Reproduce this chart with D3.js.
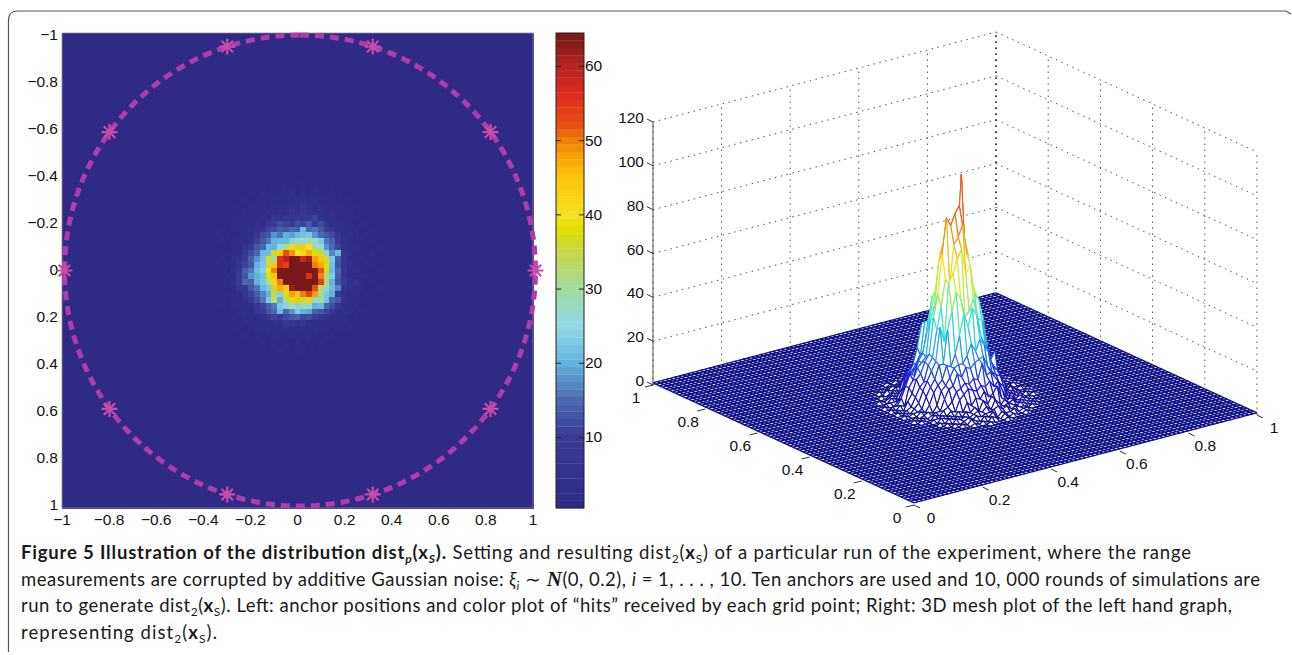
<!DOCTYPE html>
<html>
<head>
<meta charset="utf-8">
<script src="https://cdn.jsdelivr.net/npm/d3@7"></script>
<style>
  html, body { margin: 0; padding: 0; background: #fff; }
  svg { display: block; }
  .tick-label { font-family: "Liberation Sans", sans-serif; font-size: 15.5px; fill: #111; }
  .caption { font-family: "Lato", sans-serif; font-size: 18.5px; fill: #1a1a1a; }
</style>
</head>
<body>
<div id="chart-area"></div>
<script>
// Data

var heatTicks = [-1, -0.8, -0.6, -0.4, -0.2, 0, 0.2, 0.4, 0.6, 0.8, 1];
var barTicks = [10, 20, 30, 40, 50, 60];
var zTicks = [0, 20, 40, 60, 80, 100, 120];
var floorTicks = [0, 0.2, 0.4, 0.6, 0.8, 1];

var anchorX = [1, 0.809, 0.309, -0.309, -0.809, -1, -0.809, -0.309, 0.309, 0.809];
var anchorY = [0, 0.588, 0.951, 0.951, 0.588, 0, -0.588, -0.951, -0.951, -0.588];

// hits of the grid cells around the middle, everything else is backgroundHits
var gridSize = 81;
var backgroundHits = 1;
var coreHits = [
  [1,1,1,1,1,1,1,1,1,1,1,1,2,1,1,1,2,1,1,1,1,1,1,1,1,1,1,1,1,1,1],
  [1,1,1,1,1,1,1,1,1,2,1,2,1,3,2,1,3,1,2,1,1,2,1,1,1,1,1,1,1,1,1],
  [1,1,1,1,1,1,1,2,1,3,2,1,3,2,4,1,3,2,2,3,1,2,2,1,1,1,1,1,1,1,1],
  [1,1,1, 1,1,1,2,1,2,3,2,3,2,3,3,4,5,3,4,2,3,2,2,1,2,1,1,1, 1,1,1],
  [1,1,1, 1,1,2,1,3,2,3,2,3,4,3,5,3,7,5,3,4,3,2,3,2,1,2,1,1, 1,1,1],
  [1,1,1, 1,2,1,3,2,3,2,4,3,5,3,7,5,8,5,3,5,3,4,2,3,2,1,2,1, 1,1,1],
  [1,1,1, 1,1,3,2,3,2,4,3,7,5,8,7,10,7,8,11,5,3,4,3,2,3,2,1,1, 1,1,1],
  [1,1,1, 1,2,2,3,2,4,3,8,10,12,11,10,12,11,13,10,12,7,3,4,2,3,1,2,1, 1,1,1],
  [1,1,2, 1,1,3,2,4,5,7,11,12,14,13,15,14,21,15,16,13,10,8,3,4,2,3,1,1, 2,1,1],
  [1,2,1, 2,1,2,3,3,8,12,13,18,16,20,19,21,22,23,18,15,13,12,8,3,4,2,1,2, 1,1,1],
  [1,1,2, 1,2,3,2,5,11,13,16,20,21,21,24,29,25,30,27,23,16,14,10,5,3,2,2,1, 2,1,1],
  [1,1,1, 1,3,2,5,10,13,15,21,20,25,33,42,36,44,40,30,26,18,15,11,5,3,4,2,1, 1,2,1],
  [1,2,1, 2,2,3,8,12,15,21,21,36,44,52,49,40,42,47,38,36,24,17,21,7,4,3,2,1, 2,1,1],
  [1,1,2, 1,3,5,10,14,18,22,37,30,56,60,66,70,58,62,48,45,36,23,14,8,3,2,3,1, 1,1,1],
  [1,2,1, 2,3,7,11,13,20,23,35,45,57,54,72,75,80,66,50,47,38,22,13,7,5,3,1,2, 2,1,1],
  [1,1,2, 1,5,8,14,16,21,24,40,50,68,84,80,85,88,75,65,52,36,21,15,8,3,4,2,1, 1,2,1],
  [1,2,1, 3,2,10,13,18,20,22,38,44,64,70,82,78,78,56,68,50,32,23,14,7,3,2,3,2, 1,1,1],
  [1,1,2, 2,5,10,15,14,20,23,32,42,50,66,72,80,70,68,100,54,33,20,13,10,4,6,2,1, 2,1,1],
  [1,2,1, 1,3,7,8,13,16,21,23,36,47,44,62,70,66,64,52,34,27,21,17,7,5,3,3,1, 1,2,1],
  [1,1,2, 2,2,3,7,11,14,17,20,35,24,38,48,44,50,54,48,30,23,20,10,5,2,3,1,2, 1,1,1],
  [1,1,1, 1,3,2,5,8,12,16,23,33,20,32,38,45,36,38,28,30,22,15,13,5,3,2,3,1, 2,1,1],
  [1,1,2, 1,2,3,2,3,10,11,14,16,23,24,28,24,29,26,20,21,15,12,7,3,2,3,1,1, 1,1,1],
  [1,1,1, 1,1,2,3,2,7,10,13,15,21,15,18,23,20,19,14,13,11,8,3,4,2,1,2,1, 1,1,1],
  [1,1,1, 1,2,1,2,3,2,5,8,11,10,12,13,14,11,12,10,7,5,3,3,2,1,2,1,1, 1,1,1],
  [1,1,1, 1,1,1,3,2,3,3,3,5,3,7,8,5,7,3,3,3,2,3,2,3,1,1,1,1, 1,1,1],
  [1,1,1, 1,1,2,1,2,3,2,3,2,3,4,3,3,4,2,3,2,3,1,2,1,2,1,1,1, 1,1,1],
  [1,1,1, 1,1,1,2,1,2,1,2,3,2,2,3,2,2,3,2,1,2,2,1,1,1,1,1,1, 1,1,1],
  [1,1,1, 1,1,1,1,1,1,2,1,2,1,2,1,3,1,2,1,2,1,1,1,1,1,1,1,1, 1,1,1],
  [1,1,1,1,1,1,1,1,1,2,1,2,1,2,1,2,2,1,1,2,1,1,1,1,1,1,1,1,1,1,1],
  [1,1,1,1,1,1,1,1,1,1,1,1,2,1,1,2,1,1,1,1,1,1,1,1,1,1,1,1,1,1,1],
  [1,1,1,1,1,1,1,1,1,1,1,1,1,1,1,1,1,1,1,1,1,1,1,1,1,1,1,1,1,1,1]
];

// colormap of the left plot (washed out print colours)
var barStops = [1, 10, 15, 20, 25, 30, 35, 38, 40, 45, 48, 50, 52, 56, 60, 64];
var barColors = ["#2f2a85", "#3a3a95", "#4a68b0", "#62b2dd", "#90d8e8", "#a0dca0", "#c8d84a", "#dede00",
                 "#f5e020", "#fcc50a", "#f8a008", "#f08008", "#e8500f", "#de2c1e", "#b82420", "#7a1a18"];

// colormap of the mesh
var meshStops = [1, 12, 25, 37, 50, 62, 87, 102];
var meshColors = ["#0c0c86", "#1414e6", "#1a8cf0", "#28e6e0", "#9cf050", "#f5e61e", "#ee4a18", "#8c1414"];

var captionLines = [
  {x: 21, y: 559, w: 1170, parts: [
    {t: "Figure 5 Illustration of the distribution dist", b: 1},
    {t: "p", b: 1, i: 1, sub: 1},
    {t: "(x", b: 1},
    {t: "S", b: 1, i: 1, sub: 1},
    {t: ").", b: 1},
    {t: " Setting and resulting dist"},
    {t: "2", sub: 1},
    {t: "("},
    {t: "x", b: 1},
    {t: "S", sub: 1},
    {t: ") of a particular run of the experiment, where the range"}
  ]},
  {x: 21, y: 586, w: 1239, parts: [
    {t: "measurements are corrupted by additive Gaussian noise: "},
    {t: "ξ", i: 1},
    {t: "i", i: 1, sub: 1},
    {t: " ∼ "},
    {t: "N", b: 1, i: 1, serif: 1},
    {t: "(0, 0.2), "},
    {t: "i", i: 1},
    {t: " = 1, . . . , 10. Ten anchors are used and 10, 000 rounds of simulations are"}
  ]},
  {x: 21, y: 612, w: 1211, parts: [
    {t: "run to generate dist"},
    {t: "2", sub: 1},
    {t: "("},
    {t: "x", b: 1},
    {t: "S", sub: 1},
    {t: "). Left: anchor positions and color plot of “hits” received by each grid point; Right: 3D mesh plot of the left hand graph,"}
  ]},
  {x: 21, y: 639, w: 196, parts: [
    {t: "representing dist"},
    {t: "2", sub: 1},
    {t: "("},
    {t: "x", b: 1},
    {t: "S", sub: 1},
    {t: ")."}
  ]}
];

// SVG drawing area

var svg = d3.select("#chart-area").append("svg")
    .attr("width", 1292)
    .attr("height", 655);

// Frame around the figure
svg.append("path")
    .attr("d", "M8.5,652 V20 Q8.5,11 18,11 H1286 L1291,14")
    .attr("fill", "none")
    .attr("stroke", "#555")
    .attr("stroke-width", 1.2);

function fmt(v) {
    return String(v).replace("-", "\u2212");
}

// Expand core block into the full grid
var hits = d3.range(gridSize).map(function() {
    return d3.range(gridSize).map(function() { return backgroundHits; });
});
var coreTop = Math.floor((gridSize - coreHits.length) / 2);
var coreLeft = Math.floor((gridSize - coreHits[0].length) / 2);
coreHits.forEach(function(row, r) {
    row.forEach(function(v, c) { hits[coreTop + r][coreLeft + c] = v; });
});

var cells = [];
hits.forEach(function(row, r) {
    row.forEach(function(v, c) { cells.push({r: r, c: c, v: v}); });
});

// ---------- Left plot ----------

var heat = {left: 62, right: 533, top: 33, bottom: 508};

var x = d3.scaleLinear().domain([-1, 1]).range([heat.left, heat.right]);
var y = d3.scaleLinear().domain([-1, 1]).range([35, 505]);

var ringX = d3.scaleLinear().domain([-1, 1]).range([64.5, 535.5]);
var ringY = d3.scaleLinear().domain([-1, 1]).range([35, 506]);

var colBand = d3.scaleBand().domain(d3.range(gridSize)).range([heat.left, heat.right]);
var rowBand = d3.scaleBand().domain(d3.range(gridSize)).range([heat.top, heat.bottom]);

var barColor = d3.scaleLinear().domain(barStops).range(barColors).clamp(true);

function levelColor(v) {
    return barColor(Math.round(v));
}

svg.append("g")
    .attr("shape-rendering", "crispEdges")
    .selectAll("rect")
    .data(cells)
    .join("rect")
    .attr("x", function(d) { return colBand(d.c); })
    .attr("y", function(d) { return rowBand(d.r); })
    .attr("width", colBand.bandwidth() + 1)
    .attr("height", rowBand.bandwidth() + 1)
    .attr("fill", function(d) { return levelColor(d.v); });

svg.append("rect")
    .attr("x", heat.left).attr("y", heat.top)
    .attr("width", heat.right - heat.left).attr("height", heat.bottom - heat.top)
    .attr("fill", "none").attr("stroke", "#8a8a9a").attr("stroke-width", 0.8);

svg.append("g").selectAll("text")
    .data(heatTicks)
    .join("text")
    .attr("class", "tick-label")
    .attr("x", 58)
    .attr("y", function(d) { return y(d) + 5; })
    .attr("text-anchor", "end")
    .text(fmt);

svg.append("g").selectAll("text")
    .data(heatTicks)
    .join("text")
    .attr("class", "tick-label")
    .attr("x", function(d) { return x(d); })
    .attr("y", 525)
    .attr("text-anchor", "middle")
    .text(fmt);

// Anchor ring and markers
var circle = d3.lineRadial()
    .angle(function(d) { return d; })
    .radius((ringX(1) - ringX(-1)) / 2)
    .curve(d3.curveLinearClosed);

svg.append("path")
    .attr("d", circle(d3.range(0, 2 * Math.PI, Math.PI / 90)))
    .attr("transform", "translate(" + ringX(0) + "," + ringY(0) + ")")
    .attr("fill", "none")
    .attr("stroke", "#b03caa")
    .attr("stroke-width", 5)
    .attr("stroke-dasharray", "9 6");

svg.append("g").selectAll("path")
    .data(anchorX.map(function(v, i) { return {x: v, y: anchorY[i]}; }))
    .join("path")
    .attr("transform", function(d) { return "translate(" + ringX(d.x) + "," + ringY(d.y) + ")"; })
    .attr("d", "M-8,0H8M0,-8V8M-5.7,-5.7L5.7,5.7M-5.7,5.7L5.7,-5.7")
    .attr("stroke", "#c94ba8")
    .attr("stroke-width", 2.2)
    .attr("fill", "none");

// ---------- Colorbar ----------

var bar = {left: 556, right: 584, top: 33, bottom: 508};
var barY = d3.scaleLinear().domain([0.5, 64.5]).range([bar.bottom, bar.top]);

svg.append("g").selectAll("rect")
    .data(d3.range(1, 65))
    .join("rect")
    .attr("x", bar.left)
    .attr("y", function(d) { return barY(d + 0.5); })
    .attr("width", bar.right - bar.left)
    .attr("height", function(d) { return barY(d - 0.5) - barY(d + 0.5) + 0.3; })
    .attr("fill", function(d) { return levelColor(d); });

svg.append("rect")
    .attr("x", bar.left).attr("y", bar.top)
    .attr("width", bar.right - bar.left).attr("height", bar.bottom - bar.top)
    .attr("fill", "none").attr("stroke", "#222").attr("stroke-width", 1);

var barTick = svg.append("g").selectAll("g")
    .data(barTicks)
    .join("g")
    .attr("transform", function(d) { return "translate(0," + barY(d) + ")"; });

barTick.append("path")
    .attr("d", "M" + bar.left + ",0h5M" + bar.right + ",0h-5")
    .attr("stroke", "#222");

barTick.append("text")
    .attr("class", "tick-label")
    .attr("x", bar.right + 1)
    .attr("y", 5)
    .text(function(d) { return d; });

// ---------- Right plot (3D mesh) ----------

var front = {x: 914, y: 505};

var uX = d3.scaleLinear().domain([0, 1]).range([0, 343]);
var uY = d3.scaleLinear().domain([0, 1]).range([0, -90]);
var vX = d3.scaleLinear().domain([0, 1]).range([0, -261]);
var vY = d3.scaleLinear().domain([0, 1]).range([0, -120]);
var zY = d3.scaleLinear().domain([0, 120]).range([0, -263]);

function project(u, v, z) {
    return [front.x + uX(u) + vX(v), front.y + uY(u) + vY(v) + zY(z)];
}

function seg(a, b) {
    return "M" + a[0] + "," + a[1] + "L" + b[0] + "," + b[1];
}

var grid3d = svg.append("g")
    .attr("fill", "none")
    .attr("stroke", "#555")
    .attr("stroke-dasharray", "1.5 4.5");

// Walls
floorTicks.forEach(function(t) {
    grid3d.append("path").attr("d", seg(project(t, 1, 0), project(t, 1, 120)));
    grid3d.append("path").attr("d", seg(project(1, t, 0), project(1, t, 120)));
});
zTicks.forEach(function(z) {
    grid3d.append("path").attr("d", seg(project(0, 1, z), project(1, 1, z)));
    grid3d.append("path").attr("d", seg(project(1, 1, z), project(1, 0, z)));
});
grid3d.append("path").attr("d", seg(project(1, 1, 0), project(1, 1, 120))).attr("stroke", "#000");

// Mesh, painted back to front
var pos = d3.scaleLinear().domain([0, gridSize - 1]).range([0, 1]);
var meshColor = d3.scaleLinear().domain(meshStops).range(meshColors).clamp(true);

var facets = [];
d3.range(gridSize - 2, -1, -1).forEach(function(j) {
    d3.range(gridSize - 2, -1, -1).forEach(function(i) {
        var p00 = project(pos(i), pos(j), hits[j][i]),
            p10 = project(pos(i + 1), pos(j), hits[j][i + 1]),
            p01 = project(pos(i), pos(j + 1), hits[j + 1][i]),
            p11 = project(pos(i + 1), pos(j + 1), hits[j + 1][i + 1]);
        var top = d3.max([hits[j][i], hits[j][i + 1], hits[j + 1][i], hits[j + 1][i + 1]]);
        var w = top > backgroundHits ? 1.1 : 1.4;
        facets.push({
            d: "M" + [p00, p10, p11, p01].join("L") + "Z",
            fill: "#fff",
            stroke: "none",
            w: 0
        });
        [[p11, p10, hits[j + 1][i + 1], hits[j][i + 1]],
         [p11, p01, hits[j + 1][i + 1], hits[j + 1][i]],
         [p00, p10, hits[j][i], hits[j][i + 1]],
         [p00, p01, hits[j][i], hits[j + 1][i]]].forEach(function(e) {
            facets.push({
                d: seg(e[0], e[1]),
                fill: "none",
                stroke: meshColor((e[2] + e[3]) / 2),
                w: w
            });
        });
    });
});

svg.append("g").selectAll("path")
    .data(facets)
    .join("path")
    .attr("d", function(d) { return d.d; })
    .attr("fill", function(d) { return d.fill; })
    .attr("stroke", function(d) { return d.stroke; })
    .attr("stroke-width", function(d) { return d.w; });

// z axis
svg.append("path")
    .attr("d", seg(project(0, 1, 0), project(0, 1, 120)))
    .attr("stroke", "#555");

var zTick = svg.append("g").selectAll("g")
    .data(zTicks)
    .join("g")
    .attr("transform", function(d) {
        var p = project(0, 1, d);
        return "translate(" + p[0] + "," + p[1] + ")";
    });

zTick.append("path").attr("d", "M0,0L-6,-3").attr("stroke", "#333");

zTick.append("text")
    .attr("class", "tick-label")
    .attr("x", -9)
    .attr("y", 1)
    .attr("text-anchor", "end")
    .text(function(d) { return d; });

// floor axes
var uTick = svg.append("g").selectAll("g")
    .data(floorTicks)
    .join("g")
    .attr("transform", function(d) {
        var p = project(d, 0, 0);
        return "translate(" + p[0] + "," + p[1] + ")";
    });

uTick.append("path").attr("d", "M0,0L6,3").attr("stroke", "#333");

uTick.append("text")
    .attr("class", "tick-label")
    .attr("x", 17)
    .attr("y", 18)
    .attr("text-anchor", "middle")
    .text(function(d) { return d; });

var vTick = svg.append("g").selectAll("g")
    .data(floorTicks)
    .join("g")
    .attr("transform", function(d) {
        var p = project(0, d, 0);
        return "translate(" + p[0] + "," + p[1] + ")";
    });

vTick.append("path").attr("d", "M0,0L-8,2").attr("stroke", "#333");

vTick.append("text")
    .attr("class", "tick-label")
    .attr("x", -17)
    .attr("y", 18)
    .attr("text-anchor", "middle")
    .text(function(d) { return d; });

// ---------- Caption ----------

captionLines.forEach(function(line) {
    var text = svg.append("text")
        .attr("class", "caption")
        .attr("x", line.x)
        .attr("y", line.y)
        .attr("xml:space", "preserve")
        .style("white-space", "pre")
        .attr("textLength", line.w)
        .attr("lengthAdjust", "spacing");

    line.parts.forEach(function(p, i) {
        var prevSub = i > 0 && line.parts[i - 1].sub;
        var dy = (p.sub ? 4 : 0) - (prevSub ? 4 : 0);
        var span = text.append("tspan")
            .attr("dy", dy)
            .text(p.t);
        if (p.b) span.attr("font-weight", "bold");
        if (p.i) span.attr("font-style", "italic");
        if (p.sub) span.attr("font-size", 12);
        if (p.serif) span.attr("font-family", "Liberation Serif").attr("font-size", 21);
    });
});
</script>
</body>
</html>
